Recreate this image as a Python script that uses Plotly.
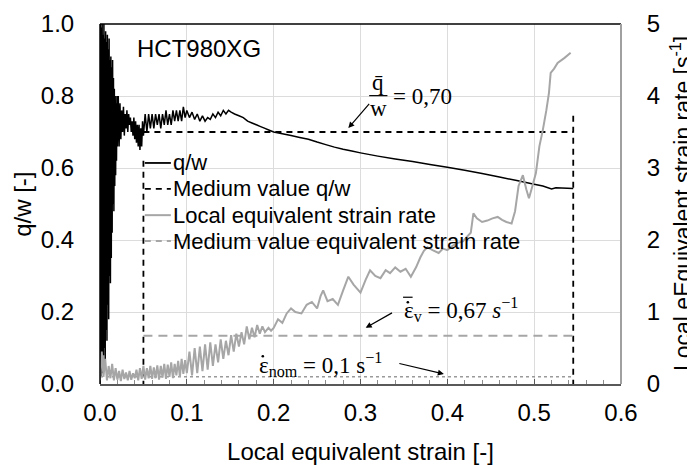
import plotly.graph_objects as go

# q/w over local equivalent strain (left axis)
qw_strain = [
    0.0000, 0.0005, 0.0010, 0.0015, 0.0020, 0.0025, 0.0030, 0.0035, 0.0040, 0.0045,
    0.0050, 0.0055, 0.0060, 0.0065, 0.0070, 0.0075, 0.0080, 0.0085, 0.0090, 0.0095,
    0.0100, 0.0105, 0.0110, 0.0115, 0.0120,
    0.0125, 0.0130, 0.0135, 0.0140, 0.0145, 0.0150, 0.0155, 0.0160, 0.0165, 0.0170,
    0.0175, 0.0180, 0.0185, 0.0190, 0.0195, 0.0200,
    0.021, 0.022, 0.023, 0.024, 0.025, 0.026, 0.027, 0.028, 0.029, 0.030,
    0.031, 0.032, 0.033, 0.034, 0.035, 0.036, 0.037, 0.038, 0.039, 0.040,
    0.041, 0.042, 0.043, 0.044, 0.045, 0.046, 0.047, 0.048, 0.049, 0.050,
    0.052, 0.054, 0.056, 0.058, 0.060, 0.062, 0.064, 0.066, 0.068, 0.070,
    0.072, 0.074, 0.076, 0.078, 0.080, 0.082, 0.084, 0.086, 0.088, 0.090,
    0.092, 0.094, 0.096, 0.098, 0.100,
    0.103, 0.106, 0.109, 0.112, 0.115, 0.118, 0.121, 0.124, 0.127, 0.130,
    0.133, 0.136, 0.139, 0.142, 0.145, 0.148, 0.151,
    0.155, 0.160, 0.165, 0.170, 0.175, 0.180, 0.185, 0.190, 0.195, 0.200,
    0.210, 0.220, 0.230, 0.240, 0.250, 0.260, 0.270, 0.280, 0.290, 0.300,
    0.320, 0.340, 0.360, 0.380, 0.400, 0.420, 0.440, 0.460, 0.480, 0.500,
    0.510, 0.520, 0.525, 0.545,
]
qw = [
    0.00, 1.00, 0.02, 0.99, 0.05, 1.00, 0.03, 0.97, 0.08, 1.00,
    0.10, 0.96, 0.06, 0.98, 0.15, 0.95, 0.12, 0.97, 0.22, 0.93,
    0.18, 0.96, 0.30, 0.90, 0.28,
    0.91, 0.35, 0.88, 0.42, 0.90, 0.50, 0.85, 0.48, 0.82, 0.55,
    0.80, 0.58, 0.78, 0.62, 0.80, 0.66,
    0.80, 0.66, 0.78, 0.68, 0.76, 0.70, 0.77, 0.69, 0.75, 0.71,
    0.76, 0.70, 0.75, 0.72, 0.74, 0.70, 0.73, 0.69, 0.74, 0.68,
    0.73, 0.67, 0.72, 0.66, 0.72, 0.65, 0.71, 0.66, 0.73, 0.69,
    0.75, 0.70, 0.75, 0.71, 0.75, 0.71, 0.75, 0.72, 0.75, 0.71,
    0.75, 0.72, 0.76, 0.72, 0.75, 0.72, 0.76, 0.73, 0.76, 0.73,
    0.76, 0.73, 0.77, 0.74, 0.76,
    0.74, 0.755, 0.735, 0.75, 0.73, 0.745, 0.73, 0.74, 0.735, 0.75,
    0.74, 0.755, 0.745, 0.76, 0.75, 0.76, 0.755,
    0.75, 0.745, 0.74, 0.73, 0.725, 0.72, 0.715, 0.71, 0.705, 0.70,
    0.695, 0.69, 0.685, 0.68, 0.672, 0.665, 0.658, 0.652, 0.647, 0.642,
    0.633, 0.625, 0.618, 0.61, 0.602, 0.594, 0.585, 0.575, 0.565, 0.555,
    0.55, 0.542, 0.545, 0.543,
]

# local equivalent strain rate in 1/s (right axis)
rate_strain = [
    0.000, 0.002, 0.004, 0.006, 0.008, 0.010, 0.012, 0.014, 0.016, 0.018,
    0.020, 0.022, 0.024, 0.026, 0.028, 0.030, 0.032, 0.034, 0.036, 0.038,
    0.040, 0.042, 0.044, 0.046, 0.048, 0.050, 0.052, 0.054, 0.056, 0.058,
    0.060, 0.062, 0.064, 0.066, 0.068, 0.070, 0.072, 0.074, 0.076, 0.078,
    0.080, 0.082, 0.084, 0.086, 0.088, 0.090, 0.092, 0.094, 0.096, 0.098,
    0.100,
    0.103, 0.106, 0.109, 0.112, 0.115, 0.118, 0.121, 0.124, 0.127, 0.130,
    0.133, 0.136, 0.139, 0.142, 0.145, 0.148, 0.151, 0.154, 0.157, 0.160,
    0.163, 0.166, 0.169, 0.172, 0.175, 0.178, 0.181, 0.184, 0.187, 0.190,
    0.194, 0.197,
    0.200, 0.205, 0.210, 0.215, 0.220, 0.225, 0.232, 0.238, 0.244, 0.250,
    0.254, 0.257, 0.262, 0.268, 0.274, 0.280, 0.286, 0.292, 0.300, 0.306,
    0.311, 0.317, 0.323, 0.329, 0.334, 0.340, 0.346, 0.352, 0.358, 0.364,
    0.369, 0.373, 0.377, 0.383, 0.390, 0.395, 0.400, 0.406, 0.412, 0.418,
    0.423, 0.427, 0.430, 0.434, 0.440, 0.446, 0.452, 0.458, 0.463, 0.468,
    0.474, 0.478, 0.482, 0.487, 0.491, 0.494, 0.498, 0.502, 0.506, 0.510,
    0.514, 0.517, 0.519, 0.523, 0.527, 0.535, 0.542,
]
rate = [
    0.05, 0.45, 0.10, 0.35, 0.05, 0.25, 0.08, 0.28, 0.05, 0.22,
    0.06, 0.18, 0.04, 0.20, 0.07, 0.16, 0.05, 0.18, 0.06, 0.15,
    0.08, 0.20, 0.05, 0.22, 0.07, 0.25, 0.06, 0.22, 0.08, 0.25,
    0.07, 0.23, 0.08, 0.26, 0.06, 0.25, 0.09, 0.28, 0.07, 0.27,
    0.10, 0.30, 0.08, 0.28, 0.12, 0.32, 0.10, 0.35, 0.14, 0.33,
    0.15,
    0.45, 0.12, 0.50, 0.15, 0.52, 0.18, 0.55, 0.20, 0.58, 0.25,
    0.55, 0.30, 0.62, 0.35, 0.60, 0.40, 0.68, 0.45, 0.70, 0.52,
    0.72, 0.55, 0.80, 0.62, 0.78, 0.65, 0.82, 0.70, 0.80, 0.72,
    0.78, 0.74,
    0.78, 0.90, 0.85, 0.98, 1.05, 1.00, 0.98, 1.10, 1.14, 1.05,
    1.22, 1.30, 1.15, 1.18, 1.10, 1.30, 1.49, 1.38, 1.27, 1.45,
    1.58, 1.50, 1.47, 1.58, 1.54, 1.62, 1.56, 1.60, 1.49, 1.62,
    1.76, 1.85, 1.90, 1.86, 1.82, 1.88, 1.86, 1.92, 1.96, 1.98,
    2.05, 2.10, 2.37, 2.30, 2.25, 2.27, 2.30, 2.32, 2.28, 2.25,
    2.23, 2.40, 2.75, 2.90, 2.70, 2.58, 2.75, 2.93, 3.30, 3.53,
    3.80, 4.04, 4.32, 4.38, 4.46, 4.53, 4.60,
]

# evaluation window and mean values
eval_start = 0.05
eval_end = 0.545
qw_mean = 0.70
rate_mean = 0.67
rate_nominal = 0.1
window_top = [0.62, 0.745]   # upper ends of the vertical window markers (q/w units)

legend_labels = ["q/w", "Medium value q/w", "Local equivalent strain rate",
                 "Medium value equivalent strain rate"]

SANS = "Arial, 'Liberation Sans', sans-serif"
SERIF = "'Cambria Math', 'Liberation Serif', serif"
GRAY = "#a6a6a6"
NOTAX = 'rgba(0,0,0,0)'

fig = go.Figure()

fig.add_trace(go.Scatter(x=qw_strain, y=qw, mode='lines',
                         line=dict(color='black', width=1.5, simplify=False),
                         showlegend=False))
fig.add_trace(go.Scatter(
    x=[eval_start, eval_start, None, eval_start, eval_end, None, eval_end, eval_end],
    y=[window_top[0], 0, None, qw_mean, qw_mean, None, window_top[1], 0],
    mode='lines', line=dict(color='black', width=1.8, dash='6px,5px'), showlegend=False))

fig.add_trace(go.Scatter(x=[0, eval_end], y=[rate_nominal, rate_nominal], yaxis='y2',
                         mode='lines', line=dict(color='#9a9a9a', width=1.5, dash='dot'),
                         showlegend=False))
fig.add_trace(go.Scatter(x=rate_strain, y=rate, yaxis='y2', mode='lines',
                         line=dict(color=GRAY, width=2, simplify=False), showlegend=False))
fig.add_trace(go.Scatter(x=[eval_start, eval_end], y=[rate_mean, rate_mean], yaxis='y2',
                         mode='lines', line=dict(color=GRAY, width=2, dash='9px,6px'),
                         showlegend=False))

# hand-drawn legend (Excel style, tight rows)
leg_styles = [
    dict(color='black', width=1.8, dash='solid'),
    dict(color='black', width=1.8, dash='6px,5px'),
    dict(color=GRAY, width=2, dash='solid'),
    dict(color=GRAY, width=2, dash='6px,5px'),
]
leg_y = [0.614, 0.542, 0.469, 0.397]
shapes = []
annotations = []
for lab, st, yy in zip(legend_labels, leg_styles, leg_y):
    shapes.append(dict(type='line', xref='paper', yref='paper', x0=0.086, x1=0.136,
                       y0=yy, y1=yy, line=st))
    annotations.append(dict(xref='paper', yref='paper', x=0.137, y=yy, xanchor='left',
                            yanchor='middle', text=lab, showarrow=False,
                            font=dict(family=SANS, size=22, color='black')))

# plot frame
shapes.append(dict(type='line', xref='paper', yref='paper', x0=0, x1=1, y0=1, y1=1,
                   line=dict(color='black', width=1.5)))
shapes.append(dict(type='line', xref='paper', yref='paper', x0=1, x1=1, y0=0, y1=1,
                   line=dict(color='#a0a0a0', width=2)))
shapes.append(dict(type='line', xref='paper', yref='paper', x0=0, x1=0, y0=0, y1=1,
                   line=dict(color='black', width=1.5)))

# fraction bar of q/w label, bar and dots of the strain rate symbols
shapes += [
    dict(type='line', xref='x', yref='y', x0=0.310, x1=0.331, y0=0.801, y1=0.801,
         line=dict(color='black', width=1.2)),
    dict(type='line', xref='x', yref='y', x0=0.349, x1=0.360, y0=0.241, y1=0.241,
         line=dict(color='black', width=1.2)),
    dict(type='circle', xref='x', yref='y', x0=0.3530, x1=0.3560, y0=0.2235, y1=0.2305,
         fillcolor='black', line=dict(width=0)),
    dict(type='circle', xref='x', yref='y', x0=0.1860, x1=0.1890, y0=0.0735, y1=0.0805,
         fillcolor='black', line=dict(width=0)),
]

annotations += [
    dict(x=0.04, y=0.933, xref='x', yref='y', text='HCT980XG', showarrow=False,
         xanchor='left', yanchor='middle', font=dict(family=SANS, size=24, color='black')),
    dict(x=0.3205, y=0.838, xref='x', yref='y', text='q\u0304', showarrow=False,
         xanchor='center', yanchor='middle', font=dict(family=SERIF, size=23, color='black')),
    dict(x=0.3205, y=0.765, xref='x', yref='y', text='w', showarrow=False,
         xanchor='center', yanchor='middle', font=dict(family=SERIF, size=23, color='black')),
    dict(x=0.335, y=0.799, xref='x', yref='y', text='= 0,70', showarrow=False,
         xanchor='left', yanchor='middle', font=dict(family=SERIF, size=23, color='black')),
    dict(x=0.286, y=0.711, ax=0.3115, ay=0.782, xref='x', yref='y', axref='x', ayref='y',
         text='', showarrow=True, arrowhead=2, arrowsize=1, arrowwidth=1.2, arrowcolor='black'),
    dict(x=0.348, y=0.208, xref='x', yref='y',
         text='\u03b5<sub>v</sub> = 0,67 <i>s</i><sup>\u22121</sup>',
         showarrow=False, xanchor='left', yanchor='middle',
         font=dict(family=SERIF, size=23, color='black')),
    dict(x=0.306, y=0.156, ax=0.338, ay=0.200, xref='x', yref='y', axref='x', ayref='y',
         text='', showarrow=True, arrowhead=2, arrowsize=1, arrowwidth=1.2, arrowcolor='black'),
    dict(x=0.181, y=0.055, xref='x', yref='y',
         text='\u03b5<sub>nom</sub> = 0,1 s<sup>\u22121</sup>',
         showarrow=False, xanchor='left', yanchor='middle',
         font=dict(family=SERIF, size=23, color='black')),
    dict(x=0.396, y=0.028, ax=0.343, ay=0.058, xref='x', yref='y', axref='x', ayref='y',
         text='', showarrow=True, arrowhead=2, arrowsize=1, arrowwidth=1.2, arrowcolor='black'),
    # y axis titles, placed like the Excel original
    dict(x=-0.150, y=0.5, xref='paper', yref='paper', text='q/w [-]', textangle=-90,
         showarrow=False, xanchor='center', yanchor='middle',
         font=dict(family=SANS, size=24, color='black')),
    dict(x=1.1152, y=0.5, xref='paper', yref='paper',
         text='Local eEquivalent strain rate [s<sup>-1</sup>]', textangle=-90,
         showarrow=False, xanchor='center', yanchor='middle',
         font=dict(family=SANS, size=23, color='black')),
]

# the page body adds an 8 px margin, so the canvas is trimmed by that amount
fig.update_layout(
    width=687, height=457,
    margin=dict(l=92, r=74, t=16, b=81),
    paper_bgcolor='white', plot_bgcolor='white',
    font=dict(family=SANS, color='black'),
    shapes=shapes, annotations=annotations,
    xaxis=dict(range=[0, 0.6], dtick=0.1, tickformat='.1f', showgrid=True,
               gridcolor='#dcdcdc', gridwidth=1, zeroline=False, automargin=False,
               showline=True, linecolor='#595959', linewidth=2,
               ticks='inside', ticklen=5, tickcolor='#595959',
               minor=dict(dtick=0.02, ticks='inside', ticklen=4, tickcolor='#8c8c8c',
                          showgrid=False),
               tickfont=dict(size=24), ticklabelstandoff=6,
               title=dict(text='Local equivalent strain [-]', font=dict(size=24), standoff=18)),
    yaxis=dict(range=[0, 1], dtick=0.2, tickformat='.1f', showgrid=True,
               gridcolor='#dcdcdc', gridwidth=1, zeroline=False, showline=False,
               automargin=False, ticks='outside', ticklen=20, tickcolor=NOTAX,
               tickfont=dict(size=24)),
    yaxis2=dict(overlaying='y', side='right', range=[0, 5], dtick=1, showgrid=False,
                zeroline=False, showline=False, automargin=False,
                ticks='outside', ticklen=20, tickcolor=NOTAX, tickfont=dict(size=24)),
)

fig.write_html("out.html")
